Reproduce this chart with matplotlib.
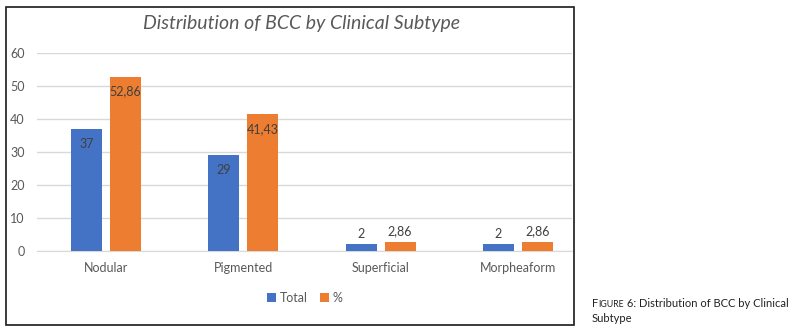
import matplotlib.pyplot as plt
import numpy as np
from matplotlib.patches import Rectangle

# data
subtypes = ['Nodular', 'Pigmented', 'Superficial', 'Morpheaform']
total = [37, 29, 2, 2]
percent = [52.86, 41.43, 2.86, 2.86]
total_labels = ['37', '29', '2', '2']
percent_labels = ['52,86', '41,43', '2,86', '2,86']
y_ticks = [0, 10, 20, 30, 40, 50, 60]

blue = '#4472C4'
orange = '#ED7D31'
grey = '#595959'

plt.rcParams['font.family'] = ['Lato', 'DejaVu Sans']

W, H = 796, 334
fig = plt.figure(figsize=(W / 100, H / 100), dpi=100)

# chart frame
fig.patches.append(Rectangle((6 / W, 1 - 325 / H), (574 - 6) / W, (325 - 7) / H,
                             transform=fig.transFigure, fill=False,
                             edgecolor='#1a1a1a', linewidth=1.2))

ax = fig.add_axes([37 / W, 1 - 251 / H, (572 - 37) / W, (251 - 53) / H])

x = np.arange(len(subtypes))
w = 0.226
off = 0.142
b1 = ax.bar(x - off, total, w, color=blue, label='Total', zorder=3)
b2 = ax.bar(x + off, percent, w, color=orange, label='%', zorder=3)

# data labels: inside end for tall bars, outside end for small ones
for bars, labels in [(b1, total_labels), (b2, percent_labels)]:
    for rect, lab in zip(bars, labels):
        h = rect.get_height()
        cx = rect.get_x() + rect.get_width() / 2
        if h > 10:
            ax.text(cx, h - 4.5, lab, ha='center', va='center', fontsize=9, color='#404040')
        else:
            ax.text(cx, h + 1.2, lab, ha='center', va='bottom', fontsize=9, color='#404040')

ax.set_xlim(-0.503, 3.394)
ax.set_ylim(0, 60)
ax.set_yticks(y_ticks)
ax.set_xticks(x)
ax.set_xticklabels(subtypes)
ax.tick_params(axis='both', length=0, labelsize=9, labelcolor=grey)
ax.tick_params(axis='y', pad=9)
ax.tick_params(axis='x', pad=8)
ax.grid(axis='y', color='#d9d9d9', linewidth=1, zorder=0)
for s in ['top', 'right', 'left']:
    ax.spines[s].set_visible(False)
ax.spines['bottom'].set_color('#d9d9d9')

fig.text(302 / W, 1 - 23 / H, 'Distribution of BCC by Clinical Subtype',
         ha='center', va='center', fontsize=14, style='italic', color=grey)

fig.legend(loc='center', bbox_to_anchor=(305 / W, 1 - 298 / H), ncol=2,
           frameon=False, fontsize=9, labelcolor=grey, handlelength=0.7,
           handleheight=0.7, handletextpad=0.3, columnspacing=1.0)

# caption with small caps "Figure"
cap = '#222222'
t1 = fig.text(592 / W, 1 - 307 / H, 'F', fontsize=8, color=cap, va='baseline')
t2 = fig.add_artist(plt.Annotation('IGURE', xy=(1, 0), xycoords=t1, fontsize=6.3,
                                   color=cap, va='bottom'))
fig.add_artist(plt.Annotation(' 6: Distribution of BCC by Clinical', xy=(1, 0), xycoords=t2,
                              fontsize=8, color=cap, va='bottom'))
fig.text(592 / W, 1 - 322 / H, 'Subtype', fontsize=8, color=cap, va='baseline')

fig.savefig('out.png', dpi=100)
